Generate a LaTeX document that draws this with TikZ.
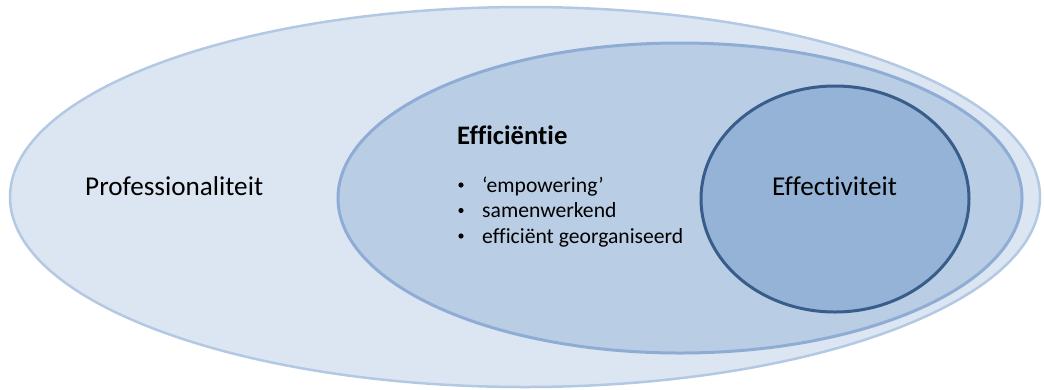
\documentclass[tikz,border=0pt]{standalone}
\usepackage{fontspec}
\setmainfont{Carlito}[Ligatures=NoCommon]
\usepackage{tikz}
\usetikzlibrary{positioning}

\definecolor{profFill}{HTML}{DCE6F2}
\definecolor{profLine}{HTML}{B3C9E3}
\definecolor{effiFill}{HTML}{B9CDE5}
\definecolor{effiLine}{HTML}{8FADD4}
\definecolor{effeFill}{HTML}{95B3D7}
\definecolor{effeLine}{HTML}{385D8A}

\tikzset{
  lbl/.style={inner sep=0pt,anchor=base west,text=black},
  bigtxt/.style={lbl,font=\fontsize{27.3}{32}\selectfont},
  headtxt/.style={lbl,font=\bfseries\fontsize{26.8}{30}\selectfont},
  itemtxt/.style={lbl,font=\fontsize{21.7}{25}\selectfont}
}

\begin{document}
\begin{tikzpicture}[x=1bp,y=-1bp]
\useasboundingbox (0,0) rectangle (1044,389);
% three nested sets: professionaliteit > efficientie > effectiviteit
\draw[line width=2.5bp,draw=profLine,fill=profFill] (525,197) ellipse [x radius=515bp,y radius=190bp];
\draw[line width=3bp,draw=effiLine,fill=effiFill] (680,198) ellipse [x radius=342bp,y radius=155bp];
\draw[line width=3bp,draw=effeLine,fill=effeFill] (835,199) ellipse [x radius=134bp,y radius=113bp];

\node[bigtxt] (prof) at (85,195) {Professionaliteit};
\node[bigtxt] (effe) at (772,195) {Effectiviteit};
\node[headtxt] (effi) at (457,144) {Efficiëntie};

% bullet list under the heading
\foreach \i/\txt in {0/{‘empowering’},1/{samenwerkend},2/{efficiënt georganiseerd}}{
  \node[itemtxt] (item\i) at (482,{192+25.5*\i}) {\txt};
  \fill (461,{185+25.5*\i}) circle (2.6bp);
}
\end{tikzpicture}
\end{document}
